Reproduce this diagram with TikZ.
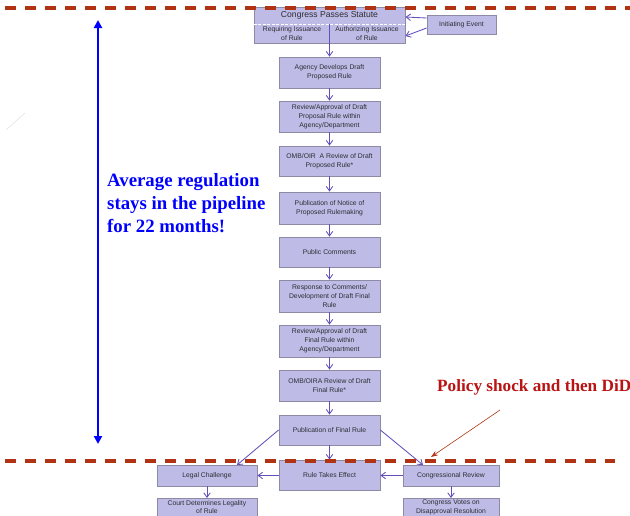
\documentclass[tikz,border=0pt]{standalone}
\usepackage{fontspec}
\setmainfont{Liberation Serif}
\setsansfont{Liberation Sans}
\usetikzlibrary{arrows.meta,calc}
\definecolor{boxfill}{RGB}{190,187,230}
\definecolor{boxborder}{RGB}{140,138,165}
\definecolor{flowarrow}{RGB}{100,78,185}
\definecolor{dashred}{RGB}{176,52,20}
\definecolor{textgray}{RGB}{45,45,50}
\definecolor{titlered}{RGB}{185,20,20}
\tikzset{
  box/.style={draw=boxborder, fill=boxfill, line width=0.8pt, align=center, text=textgray,
    font=\sffamily\fontsize{6.8}{8.8}\selectfont, inner sep=1pt},
  flow/.style={draw=flowarrow, line width=0.85pt, -{Straight Barb[length=4.5pt,width=6.5pt,line width=0.85pt]}},
  cutline/.style={draw=dashred, line width=3.2pt, dash pattern=on 11pt off 9pt},
  bluearrow/.style={draw=blue, line width=2.6pt, {Triangle[length=8pt,width=8pt]}-{Triangle[length=8pt,width=8pt]}},
}
\begin{document}
\begin{tikzpicture}[x=1pt,y=-1pt]
\useasboundingbox (0,0) rectangle (630,515);

% faint stray stroke
\draw[gray!25, line width=0.5pt] (6,130) -- (25,113);

% Congress box
\node[box, minimum width=151pt, minimum height=36pt] (cps) at (329.5,25) {};
\node[text=textgray, font=\sffamily\fontsize{8.6}{10}\selectfont, inner sep=0pt] (cpst) at (329.5,15.5) {Congress Passes Statute};
\node[text=textgray, font=\sffamily\fontsize{6.8}{8.8}\selectfont, align=center, inner sep=0pt] (req) at (292,33.5) {Requiring Issuance\\of Rule};
\node[text=textgray, font=\sffamily\fontsize{6.8}{8.8}\selectfont, align=center, inner sep=0pt] (auth) at (367,33.5) {Authorizing Issuance\\of Rule};
\coordinate (split) at (329.5,24);
\draw[white, line width=0.6pt, dash pattern=on 3pt off 1.5pt] (cps.west |- split) -- (cps.east |- split);

\node[box, minimum width=69pt, minimum height=19pt] (init) at (461.5,24.5) {Initiating Event};

\node[box, minimum width=101pt, minimum height=31pt] (agency) at (329.5,72.5) {Agency Develops Draft\\Proposed Rule};
\node[box, minimum width=101pt, minimum height=31pt] (rev1) at (329.5,116.5) {Review/Approval of Draft\\Proposal Rule within\\Agency/Department};
\node[box, minimum width=101pt, minimum height=30pt] (omb1) at (329.5,161) {OMB/OIR\ \ A Review of Draft\\Proposed Rule*};
\node[box, minimum width=101pt, minimum height=32pt] (pub1) at (329.5,208) {Publication of Notice of\\Proposed Rulemaking};
\node[box, minimum width=101pt, minimum height=30pt] (pubc) at (329.5,252) {Public Comments};
\node[box, minimum width=101pt, minimum height=32pt] (resp) at (329.5,296) {Response to Comments/\\Development of Draft Final\\Rule};
\node[box, minimum width=101pt, minimum height=32pt] (rev2) at (329.5,341) {Review/Approval of Draft\\Final Rule within\\Agency/Department};
\node[box, minimum width=101pt, minimum height=31pt] (omb2) at (329.5,385.5) {OMB/OIRA Review of Draft\\Final Rule*};
\node[box, minimum width=101pt, minimum height=30pt] (pubf) at (329.5,430) {Publication of Final Rule};
\node[box, minimum width=101pt, minimum height=30pt] (rte) at (329.5,475) {Rule Takes Effect};
\node[box, minimum width=100pt, minimum height=21pt] (legal) at (207,475.5) {Legal Challenge};
\node[box, minimum width=100pt, minimum height=24pt, anchor=north] (court) at (207,498) {};
\node[text=textgray, font=\sffamily\fontsize{6.8}{8.2}\selectfont, align=center, inner sep=0pt] (courtt) at (207,507.3) {Court Determines Legality\\of Rule};
\node[box, minimum width=96pt, minimum height=21pt] (cr) at (451,475.5) {Congressional Review};
\node[box, minimum width=96pt, minimum height=24pt, anchor=north] (cv) at (451,498) {};
\node[text=textgray, font=\sffamily\fontsize{6.8}{8.2}\selectfont, align=center, inner sep=0pt] (cvt) at (451,507.3) {Congress Votes on\\Disapproval Resolution};

% arrows
\draw[flow] ([yshift=-3.5pt]init.west) -- ([yshift=-11pt]cps.east);
\draw[flow] ([yshift=6.5pt]init.west) -- ([yshift=8pt]cps.east);
\draw[flow] (split) -- (agency.north);
\draw[flow] (agency) -- (rev1);
\draw[flow] (rev1) -- (omb1);
\draw[flow] (omb1) -- (pub1);
\draw[flow] (pub1) -- (pubc);
\draw[flow] (pubc) -- (resp);
\draw[flow] (resp) -- (rev2);
\draw[flow] (rev2) -- (omb2);
\draw[flow] (omb2) -- (pubf);
\draw[flow] (pubf) -- (rte);
\coordinate (lcTop) at (237,465);
\coordinate (crTop) at (423,465);
\draw[flow] (pubf.west) -- (lcTop);
\draw[flow] (pubf.east) -- (crTop);
\draw[flow] (rte.west |- legal.east) -- (legal.east);
\draw[flow] (cr.west) -- (rte.east |- cr.west);
\draw[flow] (legal) -- (court);
\draw[flow] (cr) -- (cv);

% dashed cut lines
\coordinate (topL) at (5,8);
\coordinate (topR) at (632,8);
\coordinate (botL) at (5,461);
\coordinate (botR) at (615,461);
\draw[cutline] (topL) -- (topR);
\draw[cutline] (botL) -- (botR);

% blue duration arrow and text
\coordinate (bTop) at (98,20);
\coordinate (bBot) at (98,444);
\draw[bluearrow] (bTop) -- (bBot);
\node[anchor=north west, text=blue, font=\rmfamily\bfseries\fontsize{18.8}{23}\selectfont, align=left, inner sep=0pt] (avg) at (107,173) {Average regulation\\stays in the pipeline\\for 22 months!};

% policy shock annotation
\node[anchor=west, text=titlered, font=\rmfamily\bfseries\fontsize{17.2}{20}\selectfont, inner sep=0pt] (shock) at (437,387) {Policy shock and then DiD};
\coordinate (shockFrom) at (500,410);
\coordinate (shockTo) at (431,457);
\draw[draw=dashred, line width=0.6pt, -{Stealth[length=7pt,width=5pt]}] (shockFrom) -- (shockTo);
\end{tikzpicture}
\end{document}
